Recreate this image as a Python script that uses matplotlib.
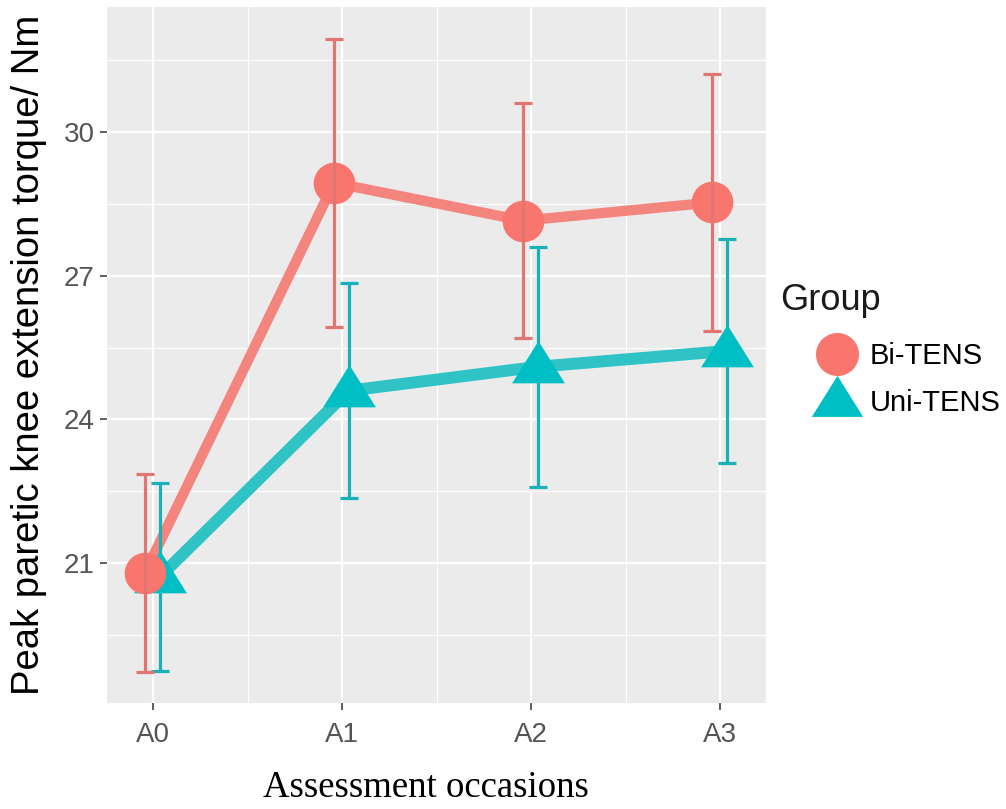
import matplotlib
matplotlib.use("Agg")
import matplotlib.pyplot as plt
from matplotlib.lines import Line2D
import numpy as np

# valores
occasions = ["A0", "A1", "A2", "A3"]
bi_mean = [20.80, 28.94, 28.15, 28.53]
bi_sd = [2.07, 3.00, 2.45, 2.69]
uni_mean = [20.71, 24.60, 25.10, 25.43]
uni_sd = [1.96, 2.25, 2.50, 2.34]
groups = ["Bi-TENS", "Uni-TENS"]

y_ticks = [21, 24, 27, 30]

plt.rcParams["font.family"] = ["Liberation Sans", "DejaVu Sans"]

fig = plt.figure(figsize=(10.06, 8.09), dpi=100)
ax = fig.add_axes([0.1064, 0.1310, 0.6551, 0.8603])
ax.set_facecolor("#EBEBEB")
for s in ax.spines.values():
    s.set_visible(False)

x = np.arange(len(occasions))
x_bi = x - 0.042
x_uni = x + 0.035

tri = [(-1, -0.6), (1, -0.6), (0, 1)]

# lineas
ax.plot(x_bi, bi_mean, color="#F4857E", lw=7.4, solid_capstyle="butt", zorder=3)
ax.plot(x_uni, uni_mean, color="#2FC3C5", lw=8.6, solid_capstyle="butt", zorder=3)

# barras de error y puntos
ax.errorbar(x_uni, uni_mean, yerr=uni_sd, fmt="none", ecolor="#19B0B6",
            elinewidth=2.3, capsize=6.5, capthick=2.3, zorder=4)
ax.plot(x_uni, uni_mean, marker=tri, ls="none", color="#00BFC4", ms=38,
        mec="none", zorder=5)
ax.plot(x_bi, bi_mean, "o", color="#F8766D", ms=30, mec="none", zorder=6)
ax.errorbar(x_bi, bi_mean, yerr=bi_sd, fmt="none", ecolor="#E0766F",
            elinewidth=2.3, capsize=6.5, capthick=2.3, zorder=7)

ax.set_xlim(-0.243, 3.243)
ax.set_ylim(18.08, 32.61)
ax.set_xticks(x)
ax.set_xticklabels(occasions)
ax.set_xticks([0.5, 1.5, 2.5], minor=True)
ax.set_yticks(y_ticks)
ax.set_yticks([19.5, 22.5, 25.5, 28.5, 31.5], minor=True)
ax.grid(which="major", color="white", lw=1.6, zorder=0)
ax.grid(which="minor", color="white", lw=0.8, zorder=0)
ax.set_axisbelow(True)
ax.tick_params(which="major", length=5, width=1.1, color="#333333",
               labelsize=20, labelcolor="#555555", pad=4)
ax.tick_params(axis="x", which="major", pad=8.5)
ax.tick_params(which="minor", length=0)

fig.text(29 / 1006, 0.561, "Peak paretic knee extension torque/ Nm",
         rotation=90, ha="center", va="center", fontsize=27.5, color="black")
fig.text(426 / 1006, 0.026, "Assessment occasions", ha="center", va="center",
         fontsize=26.5, family=["Liberation Serif", "DejaVu Serif"], color="black")

# leyenda
fig.text(780 / 1006, 1 - 300 / 809, "Group", ha="left", va="center",
         fontsize=26, color="#1A1A1A")
handles = [
    Line2D([], [], marker="o", ls="none", color="#F8766D", ms=31, mec="none"),
    Line2D([], [], marker=tri, ls="none", color="#00BFC4", ms=37, mec="none"),
]
fig.legend(handles, groups, loc="upper left",
           bbox_to_anchor=(817 / 1006, 1 - 342 / 809), frameon=False,
           fontsize=21, handlelength=1.4, handletextpad=0.4,
           labelspacing=0.65, borderpad=0, borderaxespad=0)

fig.savefig("out.png", dpi=100)
